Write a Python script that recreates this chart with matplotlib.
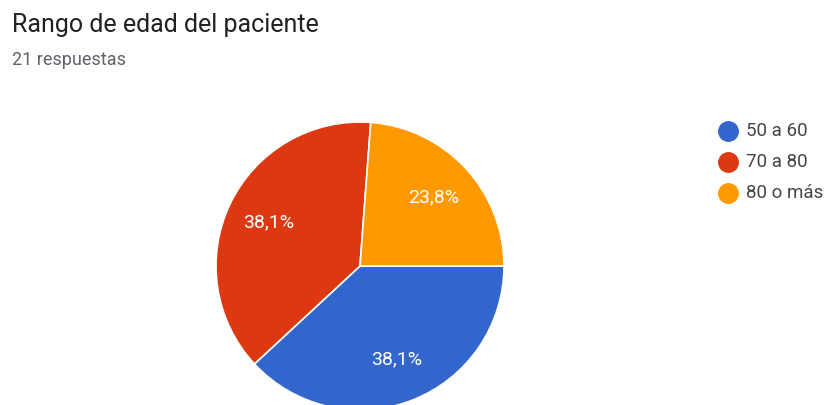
import matplotlib.pyplot as plt
from matplotlib.lines import Line2D

plt.rcParams["font.family"] = ["Roboto", "DejaVu Sans"]

# respuestas por rango de edad
categories = ["50 a 60", "70 a 80", "80 o más"]
counts = [8, 8, 5]
colors = ["#3366CC", "#DC3912", "#FF9900"]

title = "Rango de edad del paciente"
subtitle = "21 respuestas"

fig = plt.figure(figsize=(8.28, 4.05), dpi=100)
fig.patch.set_facecolor("white")

# pie placed in pixel coordinates (fig is 828x405)
W, H = 828, 405
left, top, size = 216, 122, 288
ax = fig.add_axes([left / W, (H - top - size) / H, size / W, size / H])


def fmt_pct(p):
    return f"{p:.1f}%".replace(".", ",")


wedges, texts, autotexts = ax.pie(
    counts,
    colors=colors,
    startangle=0,
    counterclock=False,
    autopct=fmt_pct,
    pctdistance=0.7,
    radius=1,
    wedgeprops=dict(edgecolor="white", linewidth=1.2),
    textprops=dict(color="white", fontsize=14),
)
ax.set_xlim(-1, 1)
ax.set_ylim(-1, 1)
ax.set_aspect("equal")
ax.axis("off")

fig.text(12 / W, 1 - 25 / H, title, fontsize=18, color="#212121", va="center")
fig.text(12 / W, 1 - 60 / H, subtitle, fontsize=13, color="#5f6368", va="center")

# legend
for i, (cat, col) in enumerate(zip(categories, colors)):
    y = 1 - (131 + i * 31) / H
    fig.add_artist(Line2D([728 / W], [y], marker="o", markersize=14,
                          color=col, linestyle="none",
                          transform=fig.transFigure))
    fig.text(746 / W, y, cat, fontsize=13.5, color="#444444", va="center")

fig.savefig("out.png", dpi=100)
